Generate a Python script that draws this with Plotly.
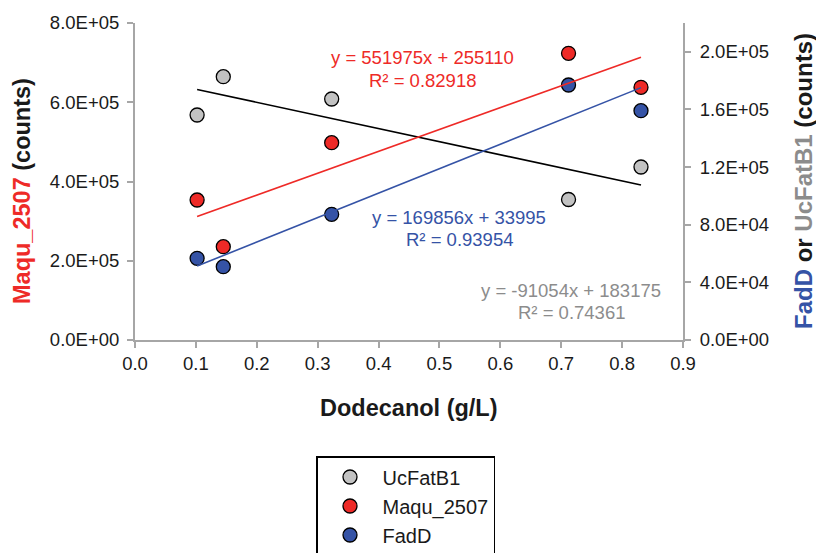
import plotly.graph_objects as go

# ---------------- data ----------------
dodecanol = [0.102, 0.145, 0.323, 0.712, 0.831]
ucfatb1 = [156150, 182730, 167250, 97510, 120060]      # right axis
maqu_2507 = [353300, 235500, 497900, 723500, 637700]   # left axis
fadd = [56700, 50870, 87240, 176970, 159130]           # right axis

# trendline coefficients (from labels): slope, intercept
fit_maqu = [551975, 255110]
fit_fadd = [169856, 33995]
fit_ucf = [-91054, 183175]
r2_maqu, r2_fadd, r2_ucf = "0.82918", "0.93954", "0.74361"

x_ticks = [0.0, 0.1, 0.2, 0.3, 0.4, 0.5, 0.6, 0.7, 0.8, 0.9]
x_ticktext = ["0.0", "0.1", "0.2", "0.3", "0.4", "0.5", "0.6", "0.7", "0.8", "0.9"]
y1_ticks = [0, 200000, 400000, 600000, 800000]
y1_ticktext = ["0.0E+00", "2.0E+05", "4.0E+05", "6.0E+05", "8.0E+05"]
y2_ticks = [0, 40000, 80000, 120000, 160000, 200000]
y2_ticktext = ["0.0E+00", "4.0E+04", "8.0E+04", "1.2E+05", "1.6E+05", "2.0E+05"]

# ---------------- style ----------------
W, H = 816, 553
L, R, T, B = 135, 133, 23, 213
FONT = "Liberation Sans, Arial, sans-serif"
RED = "#ee2a27"
BLUE = "#3553a6"
GREY = "#c2c2c2"
GREYTXT = "#8c8c8c"
AXC = "#a6a6a6"


def px(xp, yp):
    pw, ph = W - L - R, H - T - B
    return (xp - L) / pw, (H - B - yp) / ph


xmin, xmax = min(dodecanol), max(dodecanol)
line_x = [xmin, xmax]


def fit_y(fit):
    return [fit[0] * v + fit[1] for v in line_x]


mk = lambda c: dict(size=14, color=c, line=dict(color="black", width=1.3))

fig = go.Figure()
fig.add_trace(go.Scatter(x=dodecanol, y=maqu_2507, mode="markers", name="Maqu_2507",
                         marker=mk(RED), yaxis="y", legendrank=2))
fig.add_trace(go.Scatter(x=dodecanol, y=ucfatb1, mode="markers", name="UcFatB1",
                         marker=mk(GREY), yaxis="y2", legendrank=1))
fig.add_trace(go.Scatter(x=dodecanol, y=fadd, mode="markers", name="FadD",
                         marker=mk(BLUE), yaxis="y2", legendrank=3))
fig.add_trace(go.Scatter(x=line_x, y=fit_y(fit_ucf), mode="lines", line=dict(color="black", width=1.6),
                         yaxis="y2", showlegend=False, hoverinfo="skip"))
fig.add_trace(go.Scatter(x=line_x, y=fit_y(fit_fadd), mode="lines", line=dict(color=BLUE, width=1.6),
                         yaxis="y2", showlegend=False, hoverinfo="skip"))
fig.add_trace(go.Scatter(x=line_x, y=fit_y(fit_maqu), mode="lines", line=dict(color=RED, width=1.6),
                         yaxis="y3", showlegend=False, hoverinfo="skip"))

tickfont = dict(family=FONT, size=18.5, color="#1a1a1a")
axis_common = dict(showgrid=False, zeroline=False, showline=True, linecolor=AXC, linewidth=2,
                   ticks="outside", ticklen=6, tickcolor=AXC, tickwidth=2, tickfont=tickfont)

fig.update_layout(
    width=W, height=H,
    margin=dict(l=L, r=R, t=T, b=B, autoexpand=False),
    paper_bgcolor="white", plot_bgcolor="white",
    font=dict(family=FONT),
    xaxis=dict(range=[0, 0.9], tickvals=x_ticks, ticktext=x_ticktext, ticklabelstandoff=0, **axis_common),
    yaxis=dict(range=[0, 800000], tickvals=y1_ticks, ticktext=y1_ticktext, ticklabelstandoff=4, **axis_common),
    yaxis2=dict(range=[0, 220000], overlaying="y", side="right", tickvals=y2_ticks, ticktext=y2_ticktext,
                ticklabelstandoff=5, **axis_common),
    yaxis3=dict(range=[0, 800000], overlaying="y", visible=False),
    showlegend=True,
    legend=dict(x=px(316, 0)[0], y=px(0, 456)[1], xanchor="left", yanchor="top",
                bordercolor="black", borderwidth=1.5, bgcolor="white",
                font=dict(family=FONT, size=20, color="#1a1a1a"),
                itemsizing="trace", itemwidth=55, indentation=0, tracegroupgap=0),
)

ann = []
base = dict(xref="paper", yref="paper", showarrow=False, xanchor="center", yanchor="middle")
# axis titles
xt = px(409, 408)
ann.append(dict(x=xt[0], y=xt[1], text="<b>Dodecanol (g/L)</b>",
                font=dict(family=FONT, size=23.5, color="#1a1a1a"), **base))
lt = px(22, 191)
ann.append(dict(x=lt[0], y=lt[1], textangle=-90,
                text="<b><span style='color:%s'>Maqu_2507</span> (counts)</b>" % RED,
                font=dict(family=FONT, size=23.5, color="#1a1a1a"), **base))
rt = px(803, 181)
ann.append(dict(x=rt[0], y=rt[1], textangle=-90,
                text="<b><span style='color:%s'>FadD</span> or <span style='color:%s'>UcFatB1</span> (counts)</b>"
                     % (BLUE, GREYTXT),
                font=dict(family=FONT, size=24, color="#1a1a1a"), **base))


def eq_text(fit):
    s = "-" if fit[0] < 0 else ""
    return "y = %s%dx + %d" % (s, abs(fit[0]), fit[1])


for fit, r2, col, cx, y1, y2 in [(fit_maqu, r2_maqu, RED, 422, 58, 80),
                                 (fit_fadd, r2_fadd, BLUE, 459, 217, 239),
                                 (fit_ucf, r2_ucf, GREYTXT, 571, 290, 312)]:
    p1 = px(cx, y1)
    p2 = px(cx, y2)
    ann.append(dict(x=p1[0], y=p1[1], text=eq_text(fit), font=dict(family=FONT, size=18.5, color=col), **base))
    ann.append(dict(x=p2[0], y=p2[1], text="R² = " + r2, font=dict(family=FONT, size=18.5, color=col), **base))

fig.update_layout(annotations=ann)
fig.write_html("out.html", post_script="document.body.style.margin='0';",
               config={"displayModeBar": False})
